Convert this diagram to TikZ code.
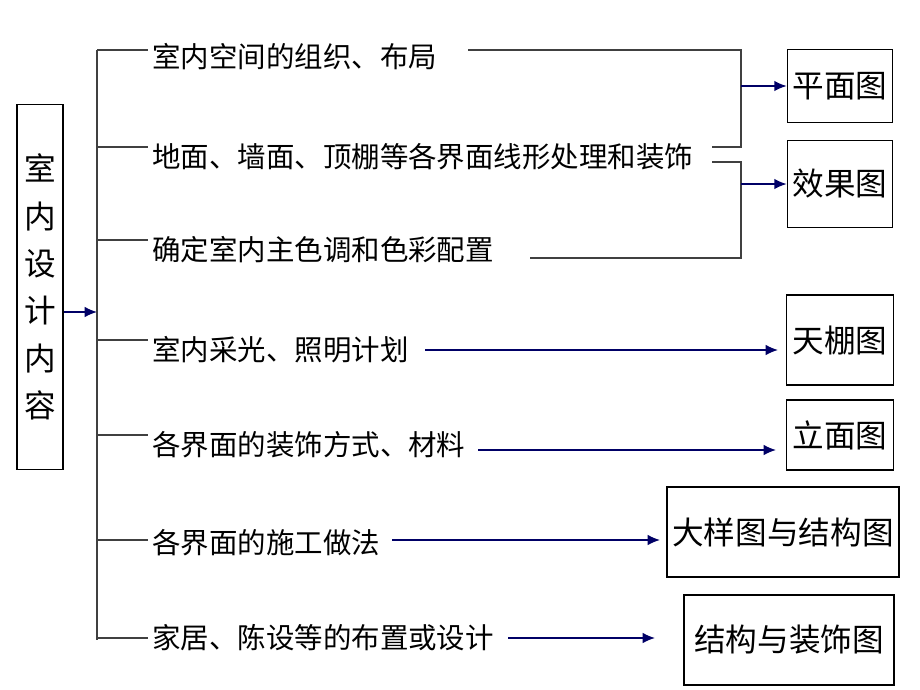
\documentclass[tikz,border=0pt]{standalone}
\usepackage{fontspec}
\setmainfont{Noto Sans CJK SC}
\usetikzlibrary{arrows.meta}
\begin{document}
\begin{tikzpicture}[x=0.02cm,y=-0.02cm,
    item/.style={anchor=west, inner sep=0pt, font=\fontsize{16.2}{20}\selectfont},
    res/.style={draw, thick, minimum height=#1, inner sep=3pt, font=\fontsize{18}{22}\selectfont},
    res/.default=1.6cm,
    arr/.style={thick, draw=blue!40!black, -{Latex[length=7pt,width=6pt]}},
    ln/.style={thick, draw=black!75}]
    \useasboundingbox (0,0) rectangle (920,690);

    \node[draw, thick, minimum width=0.92cm, minimum height=7.3cm, align=center,
          font=\fontsize{18}{27}\selectfont] (main) at (40,287) {室\\内\\设\\计\\内\\容};
    \coordinate (trunk) at (97,312);
    \coordinate (top) at (97,50);
    \coordinate (bot) at (97,640);
    \draw[arr] (main.east |- trunk) -- (trunk);
    \draw[ln] (top) -- (bot);

    \node[item] (t1) at (152,57) {室内空间的组织、布局};
    \node[item] (t2) at (152,157) {地面、墙面、顶棚等各界面线形处理和装饰};
    \node[item] (t3) at (152,250) {确定室内主色调和色彩配置};
    \node[item] (t4) at (152,350) {室内采光、照明计划};
    \node[item] (t5) at (152,445) {各界面的装饰方式、材料};
    \node[item] (t6) at (152,543) {各界面的施工做法};
    \node[item] (t7) at (152,638) {家居、陈设等的布置或设计};
    \draw[ln] (top) -- (148,50);
    \foreach \n/\y in {t2/147, t3/240, t4/340, t5/435, t6/540, t7/638}
        \draw[ln] (97,\y) -- (148,\y);

    \node[res=1.45cm, minimum width=2.1cm] (b1) at (840,86) {平面图};
    \node[res=1.75cm, minimum width=2.1cm] (b2) at (840,184) {效果图};
    \node[res=1.8cm, minimum width=2.15cm] (b3) at (840,340) {天棚图};
    \node[res=1.4cm, minimum width=2.15cm] (b4) at (840,435) {立面图};
    \node[res=1.8cm, minimum width=4.4cm] (b5) at (783,532) {大样图与结构图};
    \node[res=1.8cm, minimum width=4.2cm] (b6) at (789,640) {结构与装饰图};

    % brackets to the first two boxes
    \coordinate (k1) at (741,50);
    \coordinate (k2) at (741,147);
    \coordinate (k3) at (741,162);
    \coordinate (k4) at (741,258);
    \draw[ln] (468,50) -- (k1) -- (k2) -- (712,147);
    \draw[ln] (712,162) -- (k3) -- (k4) -- (530,258);
    \draw[arr] (k1 |- b1) -- (b1.west);
    \draw[arr] (k3 |- b2) -- (b2.west);

    % single arrows, ending short of their boxes
    \coordinate (e4) at (778,350);
    \coordinate (e5) at (776,450);
    \coordinate (e6) at (660,540);
    \coordinate (e7) at (655,638);
    \draw[arr] (425,350) -- (e4);
    \draw[arr] (478,450) -- (e5);
    \draw[arr] (392,540) -- (e6);
    \draw[arr] (508,638) -- (e7);
\end{tikzpicture}
\end{document}
